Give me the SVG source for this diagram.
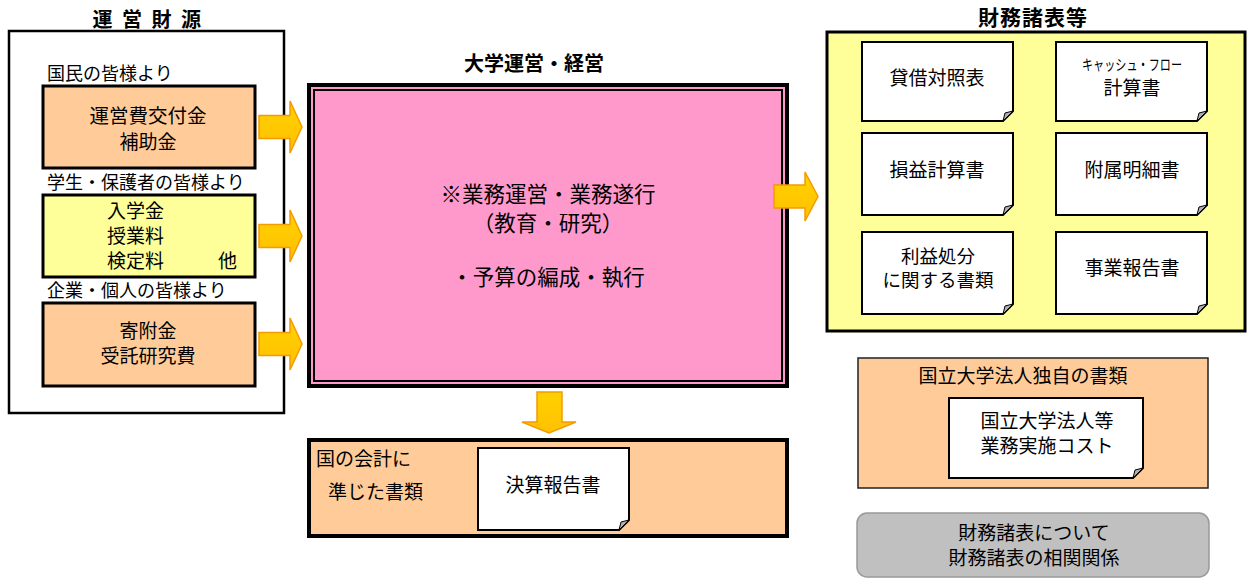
<svg xmlns="http://www.w3.org/2000/svg" width="1248" height="578" viewBox="0 0 1248 578">
<defs>
<style>
text{font-family:"Noto Sans CJK JP","Noto Sans CJK SC",sans-serif;fill:#000}
.t{font-size:20px;font-weight:bold;text-anchor:middle}
.lb{font-size:18px}
.m{font-size:19px;text-anchor:middle}
.c{font-size:21.5px;text-anchor:middle}
.d{font-size:19px;text-anchor:middle}
.peach{fill:#FFCC99;stroke:#000;stroke-width:3}
.doc{fill:#fff;stroke:#000;stroke-width:2}
.fold{fill:#b0b0b0;stroke:#000;stroke-width:1}
.arr{fill:url(#ag);stroke:#F59A00;stroke-width:1.5}
</style>
<linearGradient id="ag" x1="0" y1="0" x2="0" y2="1">
<stop offset="0" stop-color="#FFD200"/>
<stop offset="1" stop-color="#FFC000"/>
</linearGradient>
</defs>
<rect width="1248" height="578" fill="#fff"/>

<g id="funding">
<text class="t" x="148" y="27" letter-spacing="2.5">運 営 財 源</text>
<rect x="9" y="31" width="275" height="382" fill="#fff" stroke="#000" stroke-width="2.5"/>
<text class="lb" x="47" y="80">国民の皆様より</text>
<text class="lb" x="47" y="189">学生・保護者の皆様より</text>
<text class="lb" x="47" y="297">企業・個人の皆様より</text>
</g>
<g id="node-unei">
<rect class="peach" x="43" y="86" width="212" height="82"/>
<text class="m" x="148" y="123" style="font-size:19.5px">運営費交付金</text>
<text class="m" x="148" y="149">補助金</text>
</g>
<g id="node-gakusei">
<rect x="43" y="195" width="212" height="82" fill="#FFFF99" stroke="#000" stroke-width="3"/>
<text class="m" x="107" y="218" style="text-anchor:start">入学金<tspan x="107" dy="25">授業料</tspan><tspan x="107" dy="25">検定料</tspan><tspan x="218">他</tspan></text>
</g>
<g id="node-kifu">
<rect class="peach" x="43" y="303" width="212" height="83"/>
<text class="m" x="148" y="338">寄附金<tspan x="148" dy="25">受託研究費</tspan></text>
</g>

<g id="node-center">
<text class="t" x="534" y="71">大学運営・経営</text>
<rect x="309" y="85" width="478" height="301" fill="#FF99CC" stroke="#000" stroke-width="4"/>
<rect x="314" y="90" width="468" height="291" fill="none" stroke="#000" stroke-width="2"/>
<text class="c" x="548" y="202">※業務運営・業務遂行<tspan x="548" dy="28.5">（教育・研究）</tspan><tspan x="548" dy="54.5">・予算の編成・執行</tspan></text>
</g>

<g id="connectors">
<path class="arr" d="M259,115.5 H290 V101 L302,127 L290,153 V138.5 H259 Z"/>
<path class="arr" d="M259,224.5 H290 V210 L302,236 L290,262 V247.5 H259 Z"/>
<path class="arr" d="M259,332.5 H290 V318 L302,344 L290,370 V355.5 H259 Z"/>
<path class="arr" d="M774,185 H805 V172 L818,196.5 L805,221 V208 H774 Z"/>
<path class="arr" d="M537,392 H562 V422 H576 L549,433 L522,422 H537 Z"/>
</g>

<g id="node-zaimu">
<text class="t" x="1033" y="25" style="font-size:21px" letter-spacing="1">財務諸表等</text>
<rect x="827" y="32" width="418" height="299" fill="#FFFF99" stroke="#000" stroke-width="3"/>
</g>
<g id="doc-taishaku">
<path class="doc" d="M862,42 H1013 V111 L1003,121 H862 Z"/><path class="fold" d="M1003,121 L1005,113 L1013,111 Z"/>
<text class="d" x="937" y="85">貸借対照表</text>
</g>
<g id="doc-cf">
<path class="doc" d="M1056,42 H1207 V111 L1197,121 H1056 Z"/><path class="fold" d="M1197,121 L1199,113 L1207,111 Z"/>
<text class="d" x="1132" y="70" style="font-size:15px" textLength="100" lengthAdjust="spacingAndGlyphs">キャッシュ・フロー</text>
<text class="d" x="1132" y="95">計算書</text>
</g>
<g id="doc-soneki">
<path class="doc" d="M862,133 H1013 V205 L1003,215 H862 Z"/><path class="fold" d="M1003,215 L1005,207 L1013,205 Z"/>
<text class="d" x="937" y="177">損益計算書</text>
</g>
<g id="doc-fuzoku">
<path class="doc" d="M1056,133 H1207 V205 L1197,215 H1056 Z"/><path class="fold" d="M1197,215 L1199,207 L1207,205 Z"/>
<text class="d" x="1132" y="177">附属明細書</text>
</g>
<g id="doc-rieki">
<path class="doc" d="M862,232 H1013 V304 L1003,314 H862 Z"/><path class="fold" d="M1003,314 L1005,306 L1013,304 Z"/>
<text class="d" x="938" y="263" style="font-size:18.5px">利益処分<tspan x="938" dy="24">に関する書類</tspan></text>
</g>
<g id="doc-jigyo">
<path class="doc" d="M1056,232 H1207 V304 L1197,314 H1056 Z"/><path class="fold" d="M1197,314 L1199,306 L1207,304 Z"/>
<text class="d" x="1132" y="275">事業報告書</text>
</g>

<g id="node-kuni">
<rect x="309" y="440" width="478" height="96" fill="#FFCC99" stroke="#000" stroke-width="4"/>
<text class="d" x="316" y="466" style="text-anchor:start">国の会計に<tspan x="328" dy="33">準じた書類</tspan></text>
</g>
<g id="doc-kessan">
<path class="doc" d="M478,448 H629 V520 L619,530 H478 Z"/><path class="fold" d="M619,530 L621,522 L629,520 Z"/>
<text class="d" x="553" y="492">決算報告書</text>
</g>

<g id="node-dokuji">
<rect x="858" y="358" width="350" height="130" fill="#FFCC99" stroke="#222" stroke-width="1.5"/>
<text class="d" x="1023" y="383">国立大学法人独自の書類</text>
</g>
<g id="doc-cost">
<path class="doc" d="M949,398 H1143 V468 L1133,478 H949 Z"/><path class="fold" d="M1133,478 L1135,470 L1143,468 Z"/>
<text class="d" x="1047" y="428">国立大学法人等<tspan x="1047" dy="25">業務実施コスト</tspan></text>
</g>

<g id="node-about">
<rect x="857" y="513" width="352" height="64" rx="10" fill="#C0C0C0" stroke="#999" stroke-width="1.5"/>
<text class="d" x="1034" y="540">財務諸表について<tspan x="1034" dy="25">財務諸表の相関関係</tspan></text>
</g>
</svg>
